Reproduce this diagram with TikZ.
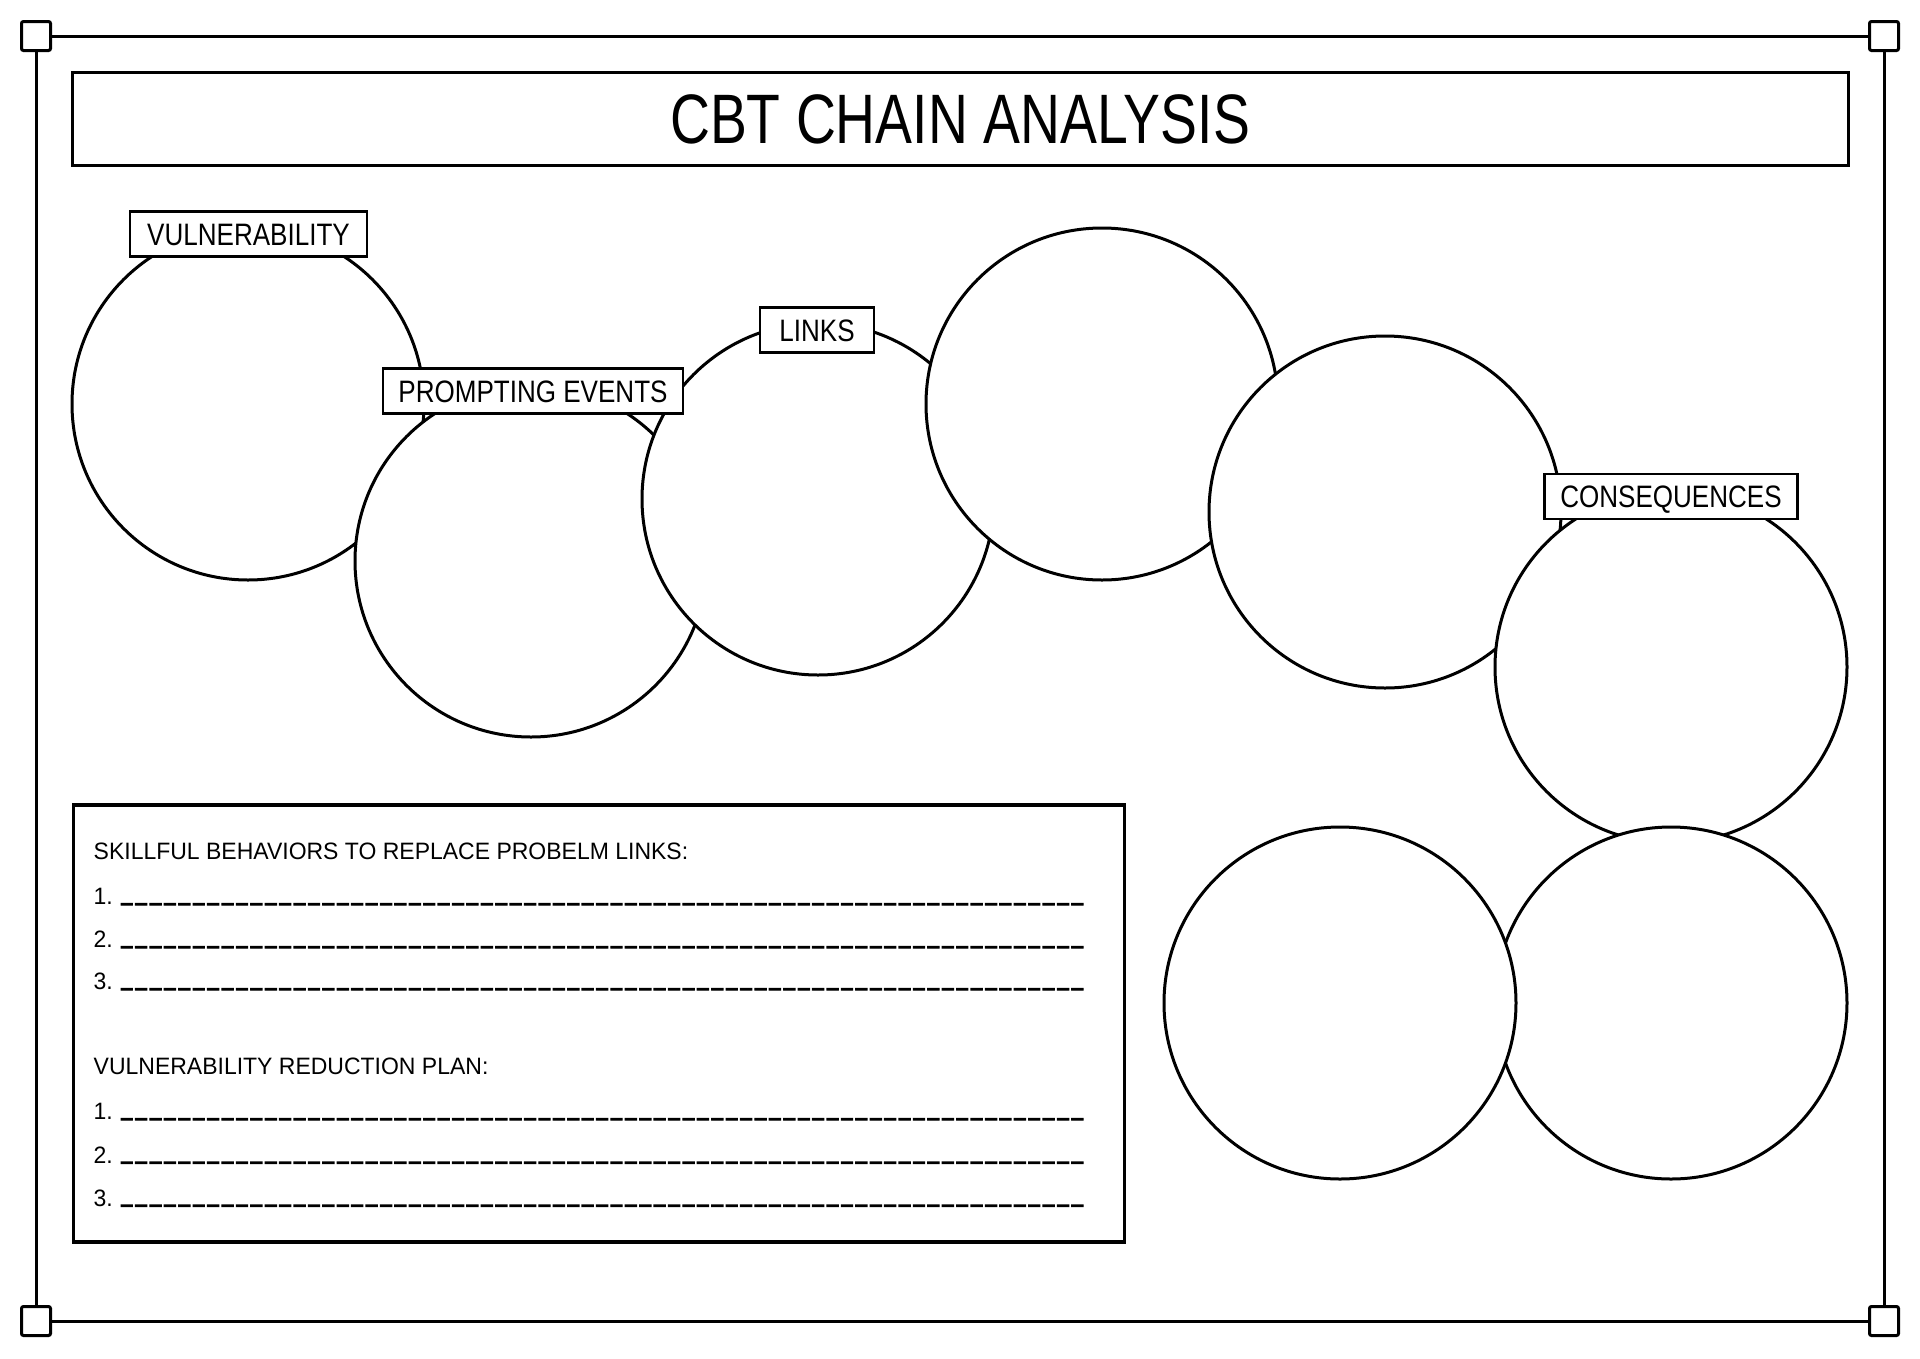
\documentclass[tikz,border=0pt]{standalone}
\usepackage{fontspec}
\setmainfont{Liberation Sans}
\newfontfamily\titlefont{Liberation Sans}[FakeStretch=0.79]
\newfontfamily\labelfont{Liberation Sans}[FakeStretch=0.84]
\newfontfamily\bodyfont{Liberation Sans}[FakeStretch=0.97]
\newfontfamily\undfont{DejaVu Sans}[LetterSpace=17,FakeBold=6]
\newcommand\myuten{\_\_\_\_\_\_\_\_\_\_}
\newcommand\myblanks{\raisebox{4.5pt}{\undfont\fontsize{21.5pt}{21.5pt}\selectfont\myuten\myuten\myuten\myuten\myuten\myuten\_\_\_\_\_\_\_}}
\tikzset{
  frameline/.style={line width=3pt},
  ring/.style={circle, draw, fill=white, line width=3pt, minimum size=352pt, inner sep=0pt},
  lbl/.style={draw, fill=white, line width=2.4pt, minimum height=45pt, inner sep=0pt,
    text height=22.2pt, text depth=0pt, font=\labelfont\fontsize{31pt}{31pt}\selectfont},
  cornerbox/.style={draw, fill=white, line width=3pt, minimum size=29pt, inner sep=0pt, rounded corners=2pt},
  bodytext/.style={anchor=base west, inner sep=0pt, font=\bodyfont\fontsize{23.7pt}{23.7pt}\selectfont},
}
\begin{document}
\begin{tikzpicture}[x=1pt, y=-1pt]
\useasboundingbox (0,0) rectangle (1920,1358);
% outer frame
\coordinate (p1) at (36,36);
\coordinate (p2) at (1884,36);
\coordinate (p3) at (36,1321);
\coordinate (p4) at (1884,1321);
\draw[frameline] (p1) -- (p2) -- (p4) -- (p3) -- cycle;
\node[cornerbox] (k1) at (p1) {};
\node[cornerbox] (k2) at (p2) {};
\node[cornerbox] (k3) at (p3) {};
\node[cornerbox] (k4) at (p4) {};
% title
\node[draw, line width=3pt, minimum width=1776pt, minimum height=93pt, inner sep=0pt,
  text height=50pt, text depth=0pt, font=\titlefont\fontsize{70pt}{70pt}\selectfont]
  (title) at (960,118.5) {CBT CHAIN ANALYSIS};
% circles
\node[ring] (c1) at (248,404) {};
\node[ring] (c2) at (531,561) {};
\node[ring] (c3) at (818,499) {};
\node[ring] (c4) at (1102,404) {};
\node[ring] (c5) at (1385,512) {};
\node[ring] (c6) at (1671,667) {};
\node[ring] (c8) at (1671,1003) {};
\node[ring] (c7) at (1340,1003) {};
% labels
\node[lbl, minimum width=237.5pt] (lvul) at (248.5,234) {VULNERABILITY};
\node[lbl, minimum width=300pt] (lprompt) at (533,391) {PROMPTING EVENTS};
\node[lbl, minimum width=114pt] (llinks) at (817,330) {LINKS};
\node[lbl, minimum width=253pt] (lcons) at (1671,496.5) {CONSEQUENCES};
% plan box
\node[draw, line width=3.3pt, minimum width=1051pt, minimum height=437pt, inner sep=0pt] (plan) at (599,1023.5) {};
\node[bodytext] (t1) at (93.5,859) {SKILLFUL BEHAVIORS TO REPLACE PROBELM LINKS:};
\node[bodytext] (t2) at (93.5,904.5) {1. \myblanks};
\node[bodytext] (t3) at (93.5,947.5) {2. \myblanks};
\node[bodytext] (t4) at (93.5,989.5) {3. \myblanks};
\node[bodytext] (t5) at (93.5,1074.5) {VULNERABILITY REDUCTION PLAN:};
\node[bodytext] (t6) at (93.5,1119.5) {1. \myblanks};
\node[bodytext] (t7) at (93.5,1163) {2. \myblanks};
\node[bodytext] (t8) at (93.5,1206) {3. \myblanks};
\end{tikzpicture}
\end{document}
